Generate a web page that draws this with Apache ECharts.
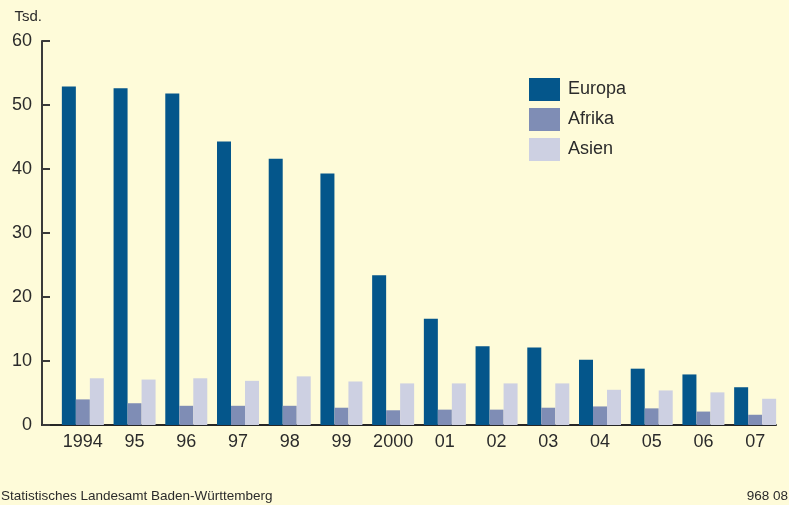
<!DOCTYPE html>
<html>
<head>
<meta charset="utf-8">
<script src="https://cdn.jsdelivr.net/npm/echarts@6/dist/echarts.min.js"></script>
<style>
  html, body { margin: 0; padding: 0; background: #fefbd9; }
  #chart { width: 789px; height: 505px; }
</style>
</head>
<body>
<div id="chart"></div>
<script>
// Jahre
const years = ['1994', '95', '96', '97', '98', '99', '2000', '01', '02', '03', '04', '05', '06', '07'];
// Werte in Tsd.
const europa = [52.9, 52.6, 51.8, 44.3, 41.6, 39.3, 23.4, 16.6, 12.3, 12.1, 10.2, 8.8, 7.9, 5.9];
const afrika = [4.0, 3.4, 3.0, 3.0, 3.0, 2.7, 2.3, 2.4, 2.4, 2.7, 2.9, 2.6, 2.1, 1.6];
const asien = [7.3, 7.1, 7.3, 6.9, 7.6, 6.8, 6.5, 6.5, 6.5, 6.5, 5.5, 5.4, 5.1, 4.1];
const yMin = 0, yMax = 60, yStep = 10;

const font = 'Liberation Sans, Arial, sans-serif';
const textColor = '#2b2b2b';

var myChart = echarts.init(document.getElementById('chart'));

myChart.setOption({
    backgroundColor: '#fefbd9',
    animation: false,
    textStyle: { fontFamily: font },
    title: [
        {
            text: 'Statistisches Landesamt Baden-Württemberg',
            left: 1, bottom: 0, padding: [0, 0, 2, 0],
            textStyle: { fontSize: 13.5, fontWeight: 'normal', color: textColor }
        },
        {
            text: '968 08',
            right: 1, bottom: 0, padding: [0, 0, 2, 0],
            textStyle: { fontSize: 13.5, fontWeight: 'normal', color: textColor }
        }
    ],
    legend: {
        orient: 'vertical',
        left: 529,
        top: 78,
        padding: 0,
        itemWidth: 31,
        itemHeight: 23,
        itemGap: 7,
        icon: 'rect',
        textStyle: { fontSize: 18, color: textColor, padding: [0, 0, 0, 3] },
        data: ['Europa', 'Afrika', 'Asien']
    },
    grid: [
        // bars
        { left: 57, right: 8, top: 41, bottom: 80 },
        // axes frame
        { left: 42, right: 13, top: 41, bottom: 80 }
    ],
    xAxis: [
        {
            type: 'category',
            gridIndex: 0,
            data: years,
            axisLine: { show: false },
            axisTick: { show: false },
            axisLabel: { fontSize: 18, color: textColor, margin: 8, interval: 0, hideOverlap: false }
        },
        {
            type: 'value',
            gridIndex: 1,
            min: 0, max: 1,
            axisLine: { show: true, lineStyle: { color: '#262626', width: 2 } },
            axisTick: { show: false },
            axisLabel: { show: false },
            splitLine: { show: false }
        }
    ],
    yAxis: [
        {
            type: 'value',
            gridIndex: 0,
            min: yMin, max: yMax, interval: yStep,
            show: false
        },
        {
            type: 'value',
            gridIndex: 1,
            min: yMin, max: yMax, interval: yStep,
            name: 'Tsd.',
            nameLocation: 'end',
            nameGap: 17,
            nameTextStyle: { fontSize: 15, color: textColor, align: 'right', verticalAlign: 'bottom' },
            axisLine: { show: true, lineStyle: { color: '#3a3a3a', width: 2 } },
            axisTick: { show: true, inside: true, length: 8, lineStyle: { color: '#3a3a3a', width: 2 } },
            axisLabel: { fontSize: 18, color: textColor, margin: 10 },
            splitLine: { show: false }
        }
    ],
    series: [
        {
            name: 'Europa', type: 'bar', xAxisIndex: 0, yAxisIndex: 0,
            barWidth: 14, barGap: 0, barCategoryGap: '18.8%',
            itemStyle: { color: '#04568b' },
            data: europa
        },
        {
            name: 'Afrika', type: 'bar', xAxisIndex: 0, yAxisIndex: 0,
            barWidth: 14, barGap: 0,
            itemStyle: { color: '#7f8db5' },
            data: afrika
        },
        {
            name: 'Asien', type: 'bar', xAxisIndex: 0, yAxisIndex: 0,
            barWidth: 14, barGap: 0,
            itemStyle: { color: '#cdd0e2' },
            data: asien
        }
    ]
});
</script>
</body>
</html>
